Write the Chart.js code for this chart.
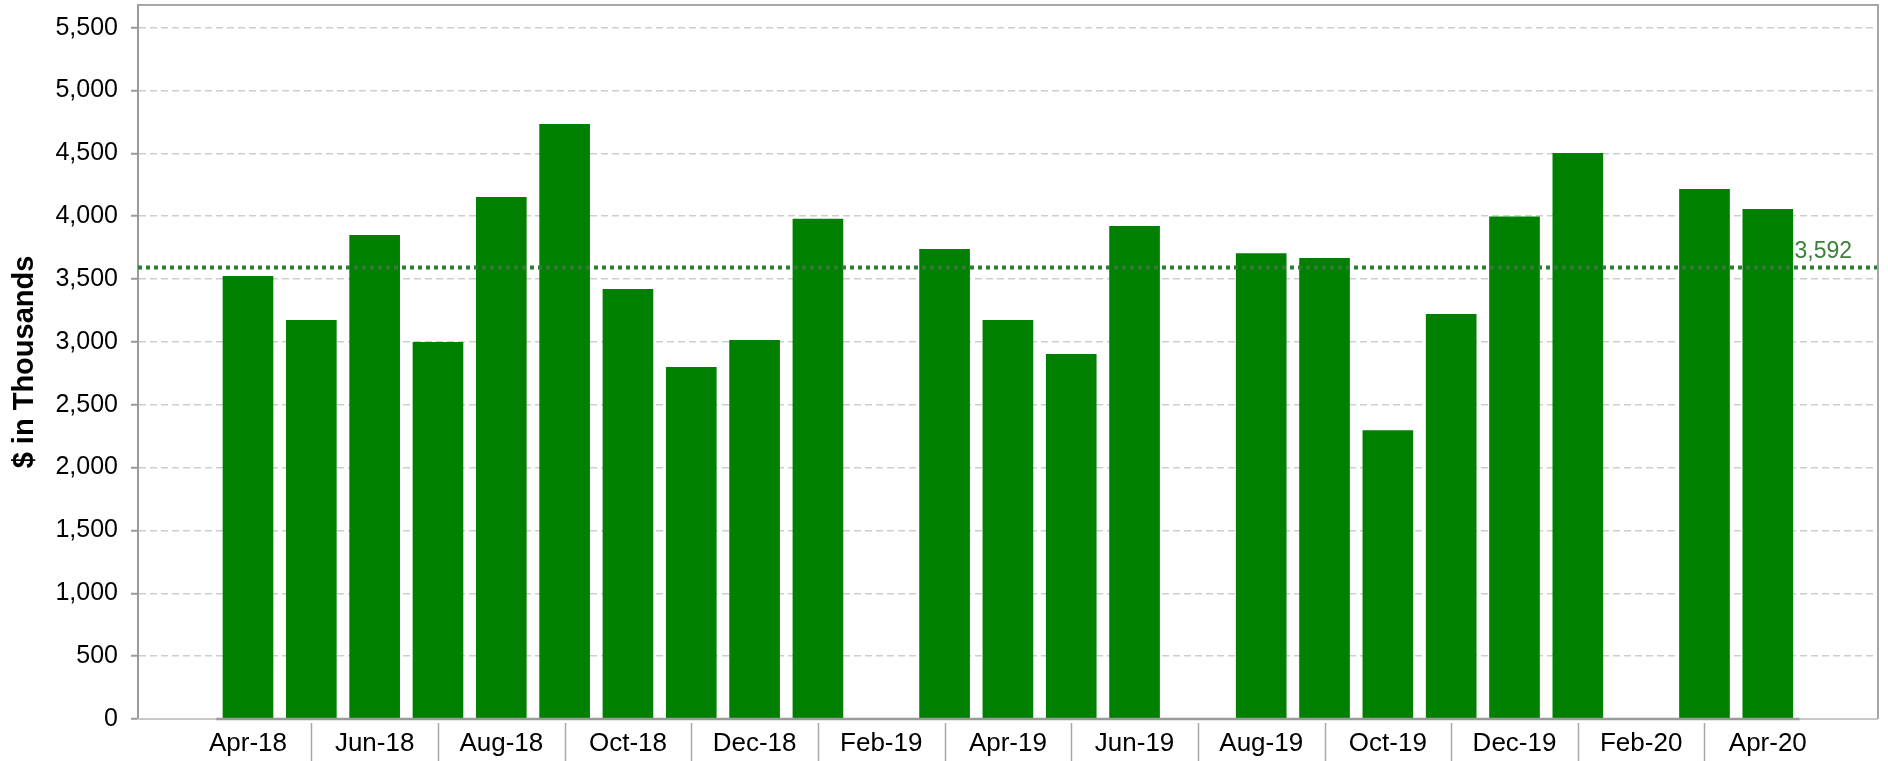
<!DOCTYPE html>
<html>
<head>
<meta charset="utf-8">
<script src="https://cdn.jsdelivr.net/npm/chart.js@4/dist/chart.umd.min.js"></script>
<style>
html,body{margin:0;padding:0;background:#ffffff;}
#wrap{width:1888px;height:761px;position:relative;}
</style>
</head>
<body>
<div id="wrap"><canvas id="c" width="1888" height="761"></canvas></div>
<script>
// ---- data ----
const categories = ['Apr-18','May-18','Jun-18','Jul-18','Aug-18','Sep-18','Oct-18','Nov-18','Dec-18','Jan-19',
  'Feb-19','Mar-19','Apr-19','May-19','Jun-19','Jul-19','Aug-19','Sep-19','Oct-19','Nov-19','Dec-19','Jan-20',
  'Feb-20','Mar-20','Apr-20'];
const values = [3524,3174,3850,2999,4152,4733,3420,2800,3015,3980,
  null,3739,3174,2903,3922,null,3706,3667,2298,3221,3997,4503,
  null,4216,4057];
const averageValue = 3592;
const averageLabel = '3,592';
const yTickValues = [0,500,1000,1500,2000,2500,3000,3500,4000,4500,5000,5500];
const xTickLabels = ['Apr-18','Jun-18','Aug-18','Oct-18','Dec-18','Feb-19','Apr-19','Jun-19','Aug-19','Oct-19','Dec-19','Feb-20','Apr-20'];
const yTitle = '$ in Thousands';

// ---- layout / style ----
const FONT = "'Liberation Sans', Arial, Helvetica, sans-serif";
const X_MIN = -1.737, X_MAX = 25.74;
const Y_MAX = 5680;

const xLabelIndex = xTickLabels.map(l => categories.indexOf(l));
const separatorIndex = categories.map((c, i) => i).filter(i => xLabelIndex.indexOf(i) < 0 && i > xLabelIndex[0] && i < xLabelIndex[xLabelIndex.length - 1]);

const barData = values.map((v, i) => ({x: i, y: v}));
const avgData = [{x: X_MIN, y: averageValue}, {x: X_MAX, y: averageValue}];

const framePlugin = {
  id: 'frame',
  beforeDatasetsDraw(chart) {
    const {ctx, chartArea: a, scales: {y}} = chart;
    const yp = y.getPixelForValue(averageValue);
    ctx.save();
    ctx.fillStyle = '#3b803b';
    ctx.font = '23px ' + FONT;
    ctx.textAlign = 'right';
    ctx.textBaseline = 'alphabetic';
    ctx.fillText(averageLabel, a.right - 26, yp - 9);
    ctx.restore();
  },
  afterDatasetsDraw(chart) {
    const {ctx, chartArea: a, scales: {x}} = chart;
    ctx.save();
    ctx.lineCap = 'butt';
    // light frame
    ctx.strokeStyle = '#a6a6a6';
    ctx.lineWidth = 2;
    ctx.beginPath();
    ctx.moveTo(a.left, a.top); ctx.lineTo(a.right, a.top); ctx.lineTo(a.right, a.bottom);
    ctx.stroke();
    ctx.strokeStyle = '#c8c8c8';
    ctx.beginPath();
    ctx.moveTo(a.left, a.bottom); ctx.lineTo(a.right, a.bottom);
    ctx.stroke();
    // category axis line
    ctx.strokeStyle = '#9a9a9a';
    ctx.lineWidth = 2.5;
    ctx.beginPath();
    ctx.moveTo(x.getPixelForValue(-0.5), a.bottom);
    ctx.lineTo(x.getPixelForValue(categories.length - 0.5), a.bottom);
    ctx.stroke();
    // separators between labels
    ctx.strokeStyle = '#a8a8a8';
    ctx.lineWidth = 1.5;
    separatorIndex.forEach(i => {
      const px = Math.round(x.getPixelForValue(i)) + 0.5;
      ctx.beginPath();
      ctx.moveTo(px, a.bottom + 4);
      ctx.lineTo(px, chart.height);
      ctx.stroke();
    });
    ctx.restore();
  }
};

new Chart(document.getElementById('c'), {
  type: 'bar',
  data: {
    datasets: [
      {
        type: 'line',
        data: avgData,
        borderColor: '#2f7d32',
        borderWidth: 4,
        borderDash: [4, 4],
        pointRadius: 0,
        fill: false,
        order: 0
      },
      {
        type: 'bar',
        data: barData,
        backgroundColor: '#008000',
        borderWidth: 0,
        categoryPercentage: 1.0,
        barPercentage: 0.8,
        order: 1
      }
    ]
  },
  options: {
    responsive: false,
    animation: false,
    devicePixelRatio: 1,
    layout: {padding: {top: 5, right: 10, left: 0, bottom: 0}},
    plugins: {legend: {display: false}, tooltip: {enabled: false}},
    scales: {
      x: {
        type: 'linear',
        offset: false,
        min: X_MIN,
        max: X_MAX,
        afterBuildTicks: ax => { ax.ticks = xLabelIndex.map(v => ({value: v})); },
        afterFit: ax => { ax.height = 42; ax.paddingLeft = 0; ax.paddingRight = 0; },
        ticks: {
          autoSkip: false, maxRotation: 0, minRotation: 0, padding: 9,
          color: '#000000', font: {family: FONT, size: 26},
          callback: v => categories[v]
        },
        grid: {display: false, drawTicks: false, offset: false},
        border: {display: false}
      },
      y: {
        type: 'linear',
        min: 0,
        max: Y_MAX,
        afterBuildTicks: ax => { ax.ticks = yTickValues.map(v => ({value: v})); },
        afterFit: ax => { ax.width = 138; ax.paddingTop = 0; ax.paddingBottom = 0; },
        ticks: {
          padding: 13, color: '#000000', font: {family: FONT, size: 25},
          callback: v => Number(v).toLocaleString('en-US')
        },
        grid: {color: '#cdcdcd', lineWidth: 1.5, tickColor: '#9a9a9a', tickLength: 7, tickWidth: 2, tickBorderDash: [20, 0]},
        border: {display: true, color: '#9a9a9a', width: 2, dash: [7, 4]},
        title: {
          display: true, text: yTitle, color: '#000000',
          font: {family: FONT, size: 29, weight: 'bold'},
          padding: {top: 8, bottom: 0}
        }
      }
    }
  },
  plugins: [framePlugin]
});
</script>
</body>
</html>
